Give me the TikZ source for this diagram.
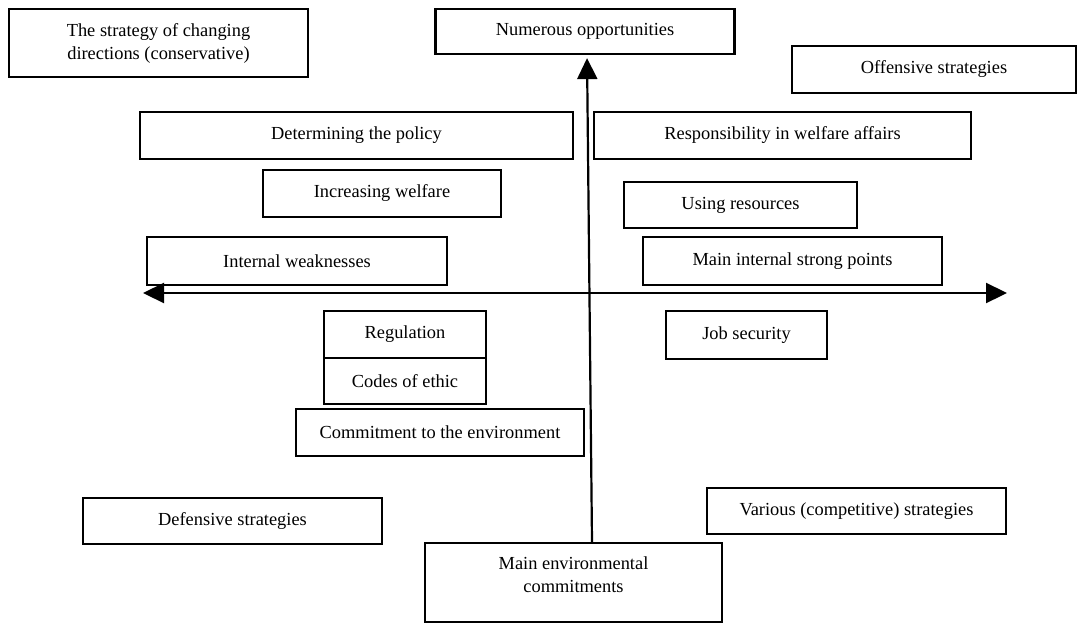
\documentclass[tikz,border=0pt]{standalone}
\usepackage{fontspec}
\setmainfont{Liberation Serif}
\usetikzlibrary{arrows.meta}
\newcommand\fsz{\fontsize{18.4}{23}\selectfont}
\tikzset{
  box/.style={draw, line width=2.2pt, inner sep=0pt, align=center, font=\fsz},
  axis/.style={line width=2.2pt, >={Triangle[width=20pt,length=21pt]}}
}
\begin{document}
\begin{tikzpicture}[x=1pt,y=-1pt]
\useasboundingbox (0,0) rectangle (1083,624);
\node[box, minimum width=299, minimum height=68] (strat) at (158.5,43) {The strategy of changing\\directions (conservative)};
\node[box, minimum width=299, minimum height=45] (numer) at (585,31.5) {Numerous opportunities};
\node[box, minimum width=284, minimum height=47] (offen) at (934,69.5) {Offensive strategies};
\node[box, minimum width=433, minimum height=47] (determ) at (356.5,135.5) {Determining the policy};
\node[box, minimum width=377, minimum height=47] (respon) at (782.5,135.5) {Responsibility in welfare affairs};
\node[box, minimum width=238, minimum height=47] (incw) at (382,193.5) {Increasing welfare};
\node[box, minimum width=233, minimum height=46] (usres) at (740.5,205) {Using resources};
\node[box, minimum width=300, minimum height=48] (intw) at (297,261) {Internal weaknesses};
\node[box, minimum width=299, minimum height=48] (mains) at (792.5,261) {Main internal strong points};
\node[box, minimum width=161, minimum height=48] (job) at (746.5,335) {Job security};
\node[box, minimum width=162, minimum height=47] (reg) at (405,334.5) {Regulation};
\node[box, minimum width=162, minimum height=46] (codes) at (405,381) {Codes of ethic};
\node[box, minimum width=288, minimum height=47] (commit) at (440,432.5) {Commitment to the environment};
\node[box, minimum width=299, minimum height=46] (defen) at (232.5,521) {Defensive strategies};
\node[box, minimum width=299, minimum height=46] (vari) at (856.5,511) {Various (competitive) strategies};
\node[box, minimum width=297, minimum height=79] (menv) at (573.5,582.5) {\begin{tabular}{@{}c@{}}Main environmental\\commitments\\[13pt]\end{tabular}};
\coordinate (hl) at (143,293);
\coordinate (hr) at (1007,293);
\draw[axis, <->] (hl) -- (hr);
\draw[axis, ->, shorten >=3pt] ([xshift=18.5pt]menv.north) -- ([xshift=2pt]numer.south);
\end{tikzpicture}
\end{document}
